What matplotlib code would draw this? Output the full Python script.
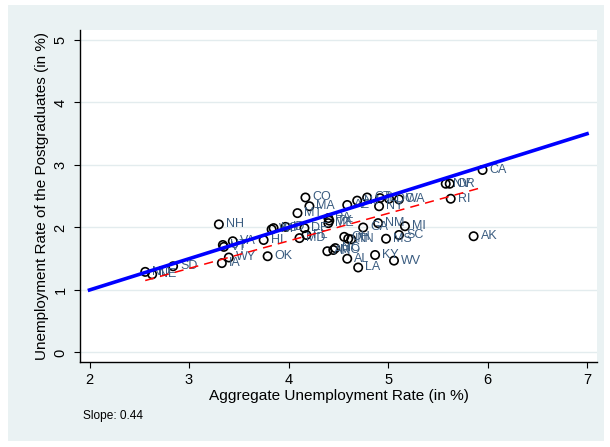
import matplotlib
matplotlib.use('Agg')
import matplotlib.pyplot as plt
from matplotlib.patches import Rectangle
import numpy as np

plt.rcParams['font.family'] = ['Liberation Sans', 'DejaVu Sans']

states = ['NH', 'WI', 'KS', 'ID', 'DE', 'HI', 'VA', 'UT', 'VT', 'WY', 'IA', 'OK',
          'MD', 'FL', 'ME', 'TX', 'PA', 'OH', 'TN', 'IN', 'GA', 'NM', 'MI', 'MS', 'SC',
          'AR', 'MO', 'NC', 'AL', 'LA', 'KY', 'WV', 'CO', 'MA', 'MT', 'AZ', 'NJ', 'CT',
          'NY', 'IL', 'DC', 'WA', 'CA', 'NV', 'OR', 'RI', 'AK', 'SD', 'NE', 'ND']
agg_rate = [3.30, 3.83, 3.85, 3.97, 4.16, 3.75, 3.44, 3.34, 3.35, 3.40, 3.33, 3.79,
            4.11, 4.18, 4.40, 4.41, 4.40, 4.56, 4.63, 4.60, 4.75, 4.90, 5.17, 4.98, 5.11,
            4.39, 4.45, 4.47, 4.59, 4.70, 4.87, 5.06, 4.17, 4.21, 4.09, 4.59, 4.69, 4.79,
            4.91, 4.92, 5.01, 5.11, 5.95, 5.58, 5.62, 5.63, 5.86, 2.84, 2.63, 2.56]
pg_rate = [2.05, 1.97, 1.99, 2.01, 1.99, 1.80, 1.78, 1.72, 1.69, 1.52, 1.43, 1.54,
           1.83, 1.88, 2.07, 2.11, 2.15, 1.85, 1.81, 1.82, 2.00, 2.07, 2.02, 1.82, 1.88,
           1.62, 1.64, 1.67, 1.50, 1.36, 1.56, 1.47, 2.48, 2.34, 2.23, 2.36, 2.43, 2.48,
           2.34, 2.47, 2.46, 2.45, 2.92, 2.70, 2.70, 2.46, 1.86, 1.38, 1.25, 1.29]

ref_x = [2, 7]
ref_y = [1.0, 3.5]
fit_slope = 0.44
fit_intercept = 0.025

xticks = [2, 3, 4, 5, 6, 7]
yticks = [0, 1, 2, 3, 4, 5]

W, H = 610, 447
fig = plt.figure(figsize=(W / 100, H / 100), dpi=100)
fig.patch.set_facecolor('white')
fig.patches.append(Rectangle((8 / W, 6 / H), (604 - 8) / W, (441 - 5) / H,
                             transform=fig.transFigure, facecolor='#EAF2F3',
                             edgecolor='none', zorder=-10))

ax = fig.add_axes([80 / W, (H - 362.3) / H, (597 - 80) / W, (362.3 - 30) / H])
ax.set_facecolor('white')
ax.set_xlim(1.9045, 7.10)
ax.set_ylim(-0.157, 5.16)

for s in ['top', 'right']:
    ax.spines[s].set_visible(False)
for s in ['left', 'bottom']:
    ax.spines[s].set_color('black')
    ax.spines[s].set_linewidth(1.0)

ax.set_xticks(xticks)
ax.set_yticks(yticks)
ax.set_xticklabels([str(t) for t in xticks], fontsize=10.5)
ax.set_yticklabels([str(t) for t in yticks], fontsize=10.5, rotation=90, va='center')
ax.tick_params(axis='both', direction='out', length=4.5, width=0.8, color='black')
ax.tick_params(axis='x', pad=3)
ax.tick_params(axis='y', pad=4.5)
ax.yaxis.grid(True, color='#E3ECEE', linewidth=1.0)
ax.set_axisbelow(True)

ax.scatter(agg_rate, pg_rate, s=36, facecolors='none', edgecolors='black',
           linewidths=1.2, zorder=3)
for st, xv, yv in zip(states, agg_rate, pg_rate):
    ax.annotate(st, (xv, yv), xytext=(5, 0), textcoords='offset points',
                ha='left', va='center', fontsize=9, color='#3A5C80', zorder=4)

fx = np.array([min(agg_rate), max(agg_rate)])
ax.plot(fx, fit_intercept + fit_slope * fx, color='red', linestyle=(0, (6, 4)),
        linewidth=1.1, zorder=5)
ax.plot(ref_x, ref_y, color='blue', linewidth=2.6, zorder=6)

ax.set_xlabel('Aggregate Unemployment Rate (in %)', fontsize=11.1, labelpad=1.5)
ax.set_ylabel('Unemployment Rate of the Postgraduates (in %)', fontsize=11, labelpad=3)

fig.text(83 / W, 1 - 416 / H, 'Slope: 0.44', fontsize=8.6, ha='left', va='center')

fig.savefig('out.png', dpi=100)
